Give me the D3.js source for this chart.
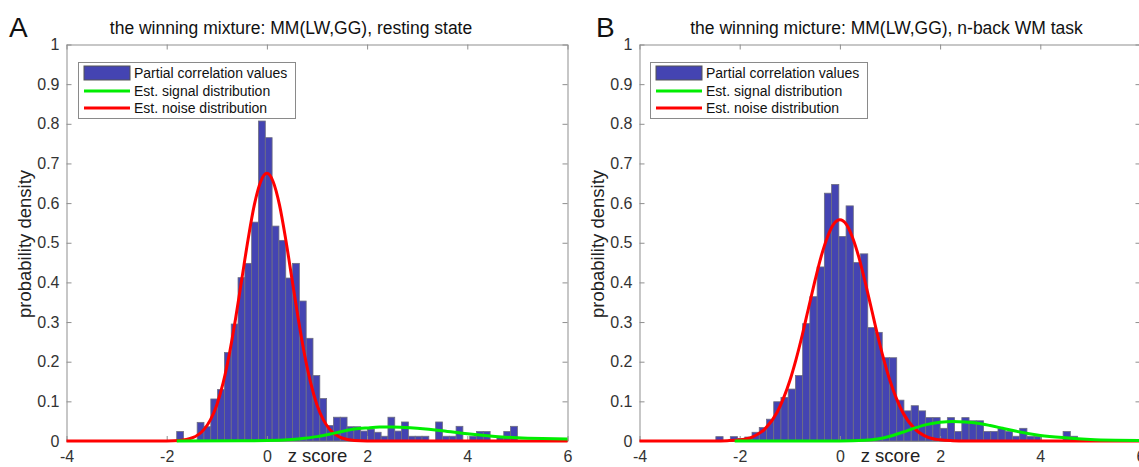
<!DOCTYPE html>
<html>
<head>
<meta charset="utf-8">
<script src="https://cdn.jsdelivr.net/npm/d3@7"></script>
<style>
body { margin: 0; background: #fff; }
svg { display: block; }
</style>
</head>
<body>
<script>
// shared axes
var xTicks = [-4, -2, 0, 2, 4, 6];
var yTicks = [0, 0.1, 0.2, 0.3, 0.4, 0.5, 0.6, 0.7, 0.8, 0.9, 1];
var legendLabels = ['Partial correlation values', 'Est. signal distribution', 'Est. noise distribution'];

// panel A: resting state (50 bins from -1.8, width 0.136)
var restTitle = 'the winning mixture: MM(LW,GG), resting state';
var restBinStart = -1.8, restBinWidth = 0.136;
var restDensity = [0.024, 0, 0, 0.047, 0.036, 0.106, 0.130, 0.223, 0.295, 0.412,
                   0.448, 0.552, 0.807, 0.765, 0.542, 0.506, 0.411, 0.448, 0.353, 0.259,
                   0.165, 0.107, 0.039, 0.060, 0.060, 0.036, 0.036, 0.025, 0.030, 0.022,
                   0.012, 0.060, 0.025, 0.048, 0.012, 0.012, 0.012, 0, 0.048, 0.012,
                   0.012, 0.037, 0, 0.012, 0.024, 0.024, 0, 0.012, 0.024, 0.037];
var restNoise = [[-4, 0], [-2.25, 0], [-2, 0.0002], [-1.75, 0.0015], [-1.5, 0.0075], [-1.25, 0.030],
                 [-1.125, 0.054], [-1, 0.091], [-0.875, 0.146], [-0.75, 0.219], [-0.625, 0.309],
                 [-0.5, 0.409], [-0.375, 0.509], [-0.25, 0.596], [-0.125, 0.654], [0, 0.675],
                 [0.125, 0.654], [0.25, 0.596], [0.375, 0.509], [0.5, 0.409], [0.625, 0.309],
                 [0.75, 0.219], [0.875, 0.146], [1, 0.091], [1.125, 0.054], [1.25, 0.030],
                 [1.5, 0.0075], [1.75, 0.0015], [2, 0.0002], [2.25, 0], [6, 0]];
var restSignal = [[-1.8, 0], [-0.5, 0.0005], [0, 0.001], [0.5, 0.004], [0.75, 0.007], [1, 0.011],
                  [1.25, 0.017], [1.5, 0.024], [1.75, 0.030], [2, 0.033], [2.25, 0.035],
                  [2.5, 0.035], [2.75, 0.034], [3, 0.032], [3.5, 0.026], [4, 0.018],
                  [4.5, 0.012], [5, 0.008], [5.5, 0.006], [6, 0.005]];

// panel B: n-back WM task (50 bins from -2.476, width 0.1444)
var taskTitle = 'the winning micture: MM(LW,GG), n-back WM task';
var taskBinStart = -2.476, taskBinWidth = 0.1444;
var taskDensity = [0.011, 0, 0.011, 0.006, 0.010, 0.022, 0.034, 0.055, 0.099, 0.110,
                   0.131, 0.165, 0.296, 0.364, 0.439, 0.625, 0.647, 0.516, 0.593, 0.450,
                   0.472, 0.286, 0.274, 0.210, 0.210, 0.103, 0.076, 0.089, 0.076, 0.059,
                   0.059, 0.032, 0.059, 0.024, 0.059, 0.051, 0.051, 0.024, 0.024, 0.032,
                   0.024, 0.012, 0.032, 0.012, 0.012, 0, 0, 0, 0.024, 0.012];
var taskNoise = [[-4, 0], [-2.5, 0], [-2.25, 0.0008], [-2, 0.003], [-1.75, 0.010], [-1.5, 0.030],
                 [-1.25, 0.073], [-1.125, 0.108], [-1, 0.152], [-0.875, 0.206], [-0.75, 0.268],
                 [-0.625, 0.336], [-0.5, 0.403], [-0.375, 0.465], [-0.25, 0.514], [-0.125, 0.547],
                 [0, 0.558], [0.125, 0.547], [0.25, 0.514], [0.375, 0.465], [0.5, 0.403],
                 [0.625, 0.336], [0.75, 0.268], [0.875, 0.206], [1, 0.152], [1.125, 0.108],
                 [1.25, 0.073], [1.5, 0.030], [1.75, 0.010], [2, 0.003], [2.25, 0.0008],
                 [2.5, 0], [6, 0]];
var taskSignal = [[-2.1, 0], [0, 0.0003], [0.5, 0.002], [0.75, 0.005], [1, 0.012], [1.25, 0.022],
                  [1.5, 0.033], [1.75, 0.042], [2, 0.047], [2.25, 0.049], [2.5, 0.048],
                  [2.75, 0.045], [3, 0.039], [3.25, 0.032], [3.5, 0.025], [4, 0.014],
                  [4.5, 0.008], [5, 0.004], [5.5, 0.002], [6, 0.001]];

var font = '"Liberation Sans", Arial, Helvetica, sans-serif';
var axisColor = '#8f8f8f';
var textColor = '#333';

var svg = d3.select('body').append('svg')
    .attr('width', 1139)
    .attr('height', 467)
    .style('font-family', font);

function fmt(d) {
    return String(+d.toFixed(1));
}

function drawPanel(p) {
    var x = d3.scaleLinear().domain([-4, 6]).range([p.left, p.left + 501]);
    var y = d3.scaleLinear().domain([0, 1]).range([441, 44.5]);
    var g = svg.append('g');

    // panel letter + title
    g.append('text')
        .attr('x', p.letterX).attr('y', 36.5)
        .attr('font-size', 28).attr('fill', '#111')
        .text(p.letter);
    g.append('text')
        .attr('x', p.titleX).attr('y', 34)
        .attr('text-anchor', 'middle')
        .attr('font-size', 17.5).attr('fill', '#111')
        .text(p.title);

    // bars
    g.append('g').selectAll('rect')
        .data(p.density)
        .join('rect')
        .attr('x', (d, i) => x(p.binStart + i * p.binWidth))
        .attr('width', (d, i) => x(p.binStart + (i + 1) * p.binWidth) - x(p.binStart + i * p.binWidth))
        .attr('y', d => y(d))
        .attr('height', d => y(0) - y(d))
        .style('fill', '#4444b2')
        .style('stroke', '#6e6e80')
        .style('stroke-width', '0.8px');

    // axes (box with inward ticks)
    var axes = [
        { ax: d3.axisBottom(x).tickValues(xTicks).tickFormat(d => (d < 0 ? '-' + (-d) : '' + d)), t: 'translate(0,' + y(0) + ')', pad: 9.5 },
        { ax: d3.axisTop(x).tickValues(xTicks).tickFormat(''), t: 'translate(0,' + y(1) + ')', pad: 0 },
        { ax: d3.axisLeft(y).tickValues(yTicks).tickFormat(fmt), t: 'translate(' + x(-4) + ',0)', pad: 7 },
        { ax: d3.axisRight(y).tickValues(yTicks).tickFormat(''), t: 'translate(' + x(6) + ',0)', pad: 0 }
    ];
    axes.forEach(function (a) {
        var ag = g.append('g')
            .attr('transform', a.t)
            .call(a.ax.tickSizeInner(-5).tickSizeOuter(0).tickPadding(a.pad));
        ag.attr('font-size', 16).attr('font-family', font);
        ag.select('.domain').attr('stroke', axisColor);
        ag.selectAll('.tick line').attr('stroke', axisColor);
        ag.selectAll('.tick text').attr('fill', textColor);
    });

    // axis labels
    g.append('text')
        .attr('x', p.left + 251).attr('y', 462)
        .attr('text-anchor', 'middle')
        .attr('font-size', 18.5).attr('fill', '#222')
        .text('z score');
    g.append('text')
        .attr('transform', 'translate(' + p.ylabelX + ',244) rotate(-90)')
        .attr('text-anchor', 'middle')
        .attr('font-size', 18.5).attr('fill', '#222')
        .text('probability density');

    // curves
    var line = d3.line()
        .x(d => x(d[0]))
        .y(d => y(d[1]))
        .curve(d3.curveMonotoneX);
    g.append('path').datum(p.noise)
        .attr('d', line)
        .style('fill', 'none').style('stroke', '#ff0000').style('stroke-width', '3px');
    g.append('path').datum(p.signal)
        .attr('d', line)
        .style('fill', 'none').style('stroke', '#00ee00').style('stroke-width', '3px');

    // legend
    var lg = g.append('g').attr('transform', 'translate(' + p.legendX + ',62)');
    lg.append('rect')
        .attr('x', 0.5).attr('y', 0.5)
        .attr('width', 217).attr('height', 56)
        .style('fill', '#fff').style('stroke', '#8a8a8a');
    lg.append('rect')
        .attr('x', 6).attr('y', 4)
        .attr('width', 46).attr('height', 14)
        .style('fill', '#4444b2').style('stroke', '#555');
    lg.append('line')
        .attr('x1', 6).attr('x2', 52).attr('y1', 29).attr('y2', 29)
        .style('stroke', '#00ee00').style('stroke-width', '3px');
    lg.append('line')
        .attr('x1', 6).attr('x2', 52).attr('y1', 46).attr('y2', 46)
        .style('stroke', '#ff0000').style('stroke-width', '3px');
    lg.selectAll('text.lab')
        .data(legendLabels)
        .join('text')
        .attr('class', 'lab')
        .attr('x', 56)
        .attr('y', (d, i) => 16 + i * 17.5)
        .attr('font-size', 14).attr('fill', '#111')
        .text(d => d);
}

drawPanel({
    letter: 'A', letterX: 9, title: restTitle, titleX: 291,
    left: 66.5, ylabelX: 31, legendX: 78,
    binStart: restBinStart, binWidth: restBinWidth,
    density: restDensity, noise: restNoise, signal: restSignal
});
drawPanel({
    letter: 'B', letterX: 596, title: taskTitle, titleX: 886.5,
    left: 639.5, ylabelX: 604, legendX: 650,
    binStart: taskBinStart, binWidth: taskBinWidth,
    density: taskDensity, noise: taskNoise, signal: taskSignal
});
</script>
</body>
</html>
